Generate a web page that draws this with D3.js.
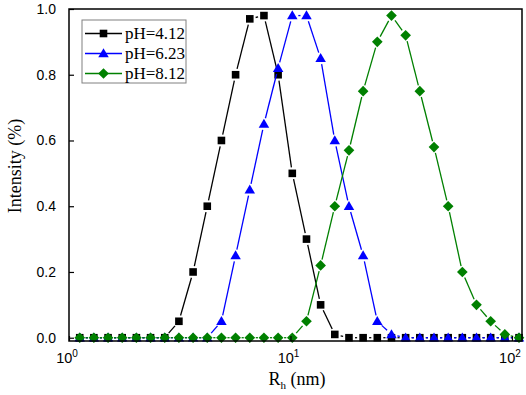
<!DOCTYPE html>
<html>
<head>
<meta charset="utf-8">
<script src="https://cdn.jsdelivr.net/npm/d3@7"></script>
<style>
  body { margin: 0; background: #fff; }
  svg { display: block; }
</style>
</head>
<body>
<div id="chart"></div>
<script>
// Data
var radius = [1.118, 1.295, 1.501, 1.739, 2.015, 2.335, 2.706, 3.135, 3.633, 4.210,
              4.878, 5.652, 6.550, 7.589, 8.794, 10.19, 11.81, 13.68, 15.85, 18.37,
              21.28, 24.66, 28.58, 33.11, 38.37, 44.46, 51.52, 59.69, 69.16, 80.14,
              92.86, 107.6];

var ph412 = [0, 0, 0, 0, 0, 0, 0, 0.05, 0.2, 0.4,
             0.6, 0.8, 0.97, 0.98, 0.8, 0.5, 0.3, 0.1, 0.01, 0,
             0, 0, 0, 0, 0, 0, 0, 0, 0, 0,
             0, 0];
var ph623 = [0, 0, 0, 0, 0, 0, 0, 0, 0, 0,
             0.05, 0.25, 0.45, 0.65, 0.82, 0.98, 0.98, 0.85, 0.6, 0.4,
             0.25, 0.05, 0.01, 0, 0, 0, 0, 0, 0, 0,
             0, 0];
var ph812 = [0, 0, 0, 0, 0, 0, 0, 0, 0, 0,
             0, 0, 0, 0, 0, 0, 0.05, 0.22, 0.4, 0.57,
             0.75, 0.9, 0.98, 0.92, 0.75, 0.58, 0.4, 0.2, 0.1, 0.05,
             0.01, 0];

var seriesNames = ["pH=4.12", "pH=6.23", "pH=8.12"];
var yTicks = [0, 0.2, 0.4, 0.6, 0.8, 1.0];
var xTicks = [1, 10, 100];
var xTickExp = ["0", "1", "2"];

var width = 526;
var height = 395;

let plotLeft = 69, plotRight = 522, plotTop = 9, plotBottom = 341;

let svg = d3.select("#chart").append("svg")
  .attr("width", width)
  .attr("height", height);

let x = d3.scaleLog()
  .domain([1, 111])
  .range([plotLeft, plotRight]);

let y = d3.scaleLinear()
  .domain([-0.01, 1.0])
  .range([plotBottom, plotTop]);

// marker shapes, Origin style
let squareSym = { draw: function (ctx, s) { ctx.rect(-s, -s, 2 * s, 2 * s); } };
let triSym = { draw: function (ctx, s) {
  ctx.moveTo(0, -s * 1.05); ctx.lineTo(s * 1.05, s * 0.75); ctx.lineTo(-s * 1.05, s * 0.75); ctx.closePath();
} };
let diaSym = { draw: function (ctx, s) {
  ctx.moveTo(0, -s * 1.3); ctx.lineTo(s * 1.3, 0); ctx.lineTo(0, s * 1.3); ctx.lineTo(-s * 1.3, 0); ctx.closePath();
} };

let series = [
  { name: seriesNames[0], values: ph412, color: "#000000", sym: squareSym, s: 3.8 },
  { name: seriesNames[1], values: ph623, color: "#0000ff", sym: triSym, s: 5 },
  { name: seriesNames[2], values: ph812, color: "#008000", sym: diaSym, s: 4.1 }
];

// lines with small gaps around each symbol
series.forEach(function (ser) {
  let pts = radius.map((r, i) => [x(r), y(ser.values[i])]);
  let segs = d3.pairs(pts);
  let gap = 6;
  svg.append("g")
    .selectAll("line")
    .data(segs)
    .join("line")
    .each(function (d) {
      let dx = d[1][0] - d[0][0], dy = d[1][1] - d[0][1];
      let len = Math.sqrt(dx * dx + dy * dy);
      let ux = dx / len, uy = dy / len;
      if (len <= 2 * gap) { d3.select(this).remove(); return; }
      d3.select(this)
        .attr("x1", d[0][0] + ux * gap)
        .attr("y1", d[0][1] + uy * gap)
        .attr("x2", d[1][0] - ux * gap)
        .attr("y2", d[1][1] - uy * gap);
    })
    .attr("stroke", ser.color)
    .attr("stroke-width", 1.3);

  svg.append("g")
    .selectAll("path")
    .data(ser.values)
    .join("path")
    .attr("d", d3.symbol().type(ser.sym).size(ser.s))
    .attr("transform", (d, i) => "translate(" + x(radius[i]) + "," + y(d) + ")")
    .attr("fill", ser.color);
});

// frame
svg.append("rect")
  .attr("x", plotLeft)
  .attr("y", plotTop)
  .attr("width", plotRight - plotLeft)
  .attr("height", plotBottom - plotTop)
  .attr("fill", "none")
  .attr("stroke", "#000")
  .attr("stroke-width", 1.5);

// y axis
let yAxis = d3.axisLeft(y)
  .tickValues(yTicks)
  .tickFormat(d3.format(".1f"))
  .tickSizeInner(-5)
  .tickSizeOuter(0)
  .tickPadding(13);

let gy = svg.append("g")
  .attr("transform", "translate(" + plotLeft + ",0)")
  .call(yAxis);
gy.select(".domain").remove();
gy.selectAll("line").attr("stroke-width", 1.2);
gy.selectAll("text")
  .style("font-family", "Liberation Sans, Arial, sans-serif")
  .style("font-size", "14px")
  .attr("fill", "#000");

// x axis
let xAxis = d3.axisBottom(x)
  .tickValues(xTicks)
  .tickFormat("")
  .tickSizeInner(-5)
  .tickSizeOuter(0);

let gx = svg.append("g")
  .attr("transform", "translate(0," + plotBottom + ")")
  .call(xAxis);
gx.select(".domain").remove();
gx.selectAll("line").attr("stroke-width", 1.2);

let xl = svg.append("g")
  .selectAll("text")
  .data(xTicks)
  .join("text")
  .attr("x", d => x(d) - 2)
  .attr("y", 363)
  .attr("text-anchor", "middle")
  .style("font-family", "Liberation Sans, Arial, sans-serif")
  .style("font-size", "14.5px");
xl.append("tspan").text("10");
xl.append("tspan")
  .attr("dy", -6)
  .style("font-size", "10px")
  .text((d, i) => xTickExp[i]);

// axis titles
let xt = svg.append("text")
  .attr("x", 297)
  .attr("y", 385)
  .attr("text-anchor", "middle")
  .style("font-family", "Liberation Serif, Times New Roman, serif")
  .style("font-size", "18px");
xt.append("tspan").text("R");
xt.append("tspan").attr("dy", 4).style("font-size", "11px").text("h");
xt.append("tspan").attr("dy", -4).text(" (nm)");

svg.append("text")
  .attr("transform", "translate(21,166) rotate(-90)")
  .attr("text-anchor", "middle")
  .style("font-family", "Liberation Serif, Times New Roman, serif")
  .style("font-size", "18px")
  .text("Intensity (%)");

// legend
let legend = svg.append("g");
legend.append("rect")
  .attr("x", 82)
  .attr("y", 20)
  .attr("width", 104)
  .attr("height", 63)
  .attr("fill", "#fff")
  .attr("stroke", "#808080")
  .attr("stroke-width", 1);

series.forEach(function (ser, i) {
  let ly = 33.5 + i * 20;
  legend.append("line")
    .attr("x1", 85).attr("x2", 122)
    .attr("y1", ly).attr("y2", ly)
    .attr("stroke", ser.color)
    .attr("stroke-width", 1.3);
  legend.append("path")
    .attr("d", d3.symbol().type(ser.sym).size(ser.s))
    .attr("transform", "translate(103.5," + ly + ")")
    .attr("fill", ser.color);
  legend.append("text")
    .attr("x", 125)
    .attr("y", ly + 5.5)
    .style("font-family", "Liberation Serif, Times New Roman, serif")
    .style("font-size", "17px")
    .text(ser.name);
});
</script>
</body>
</html>
